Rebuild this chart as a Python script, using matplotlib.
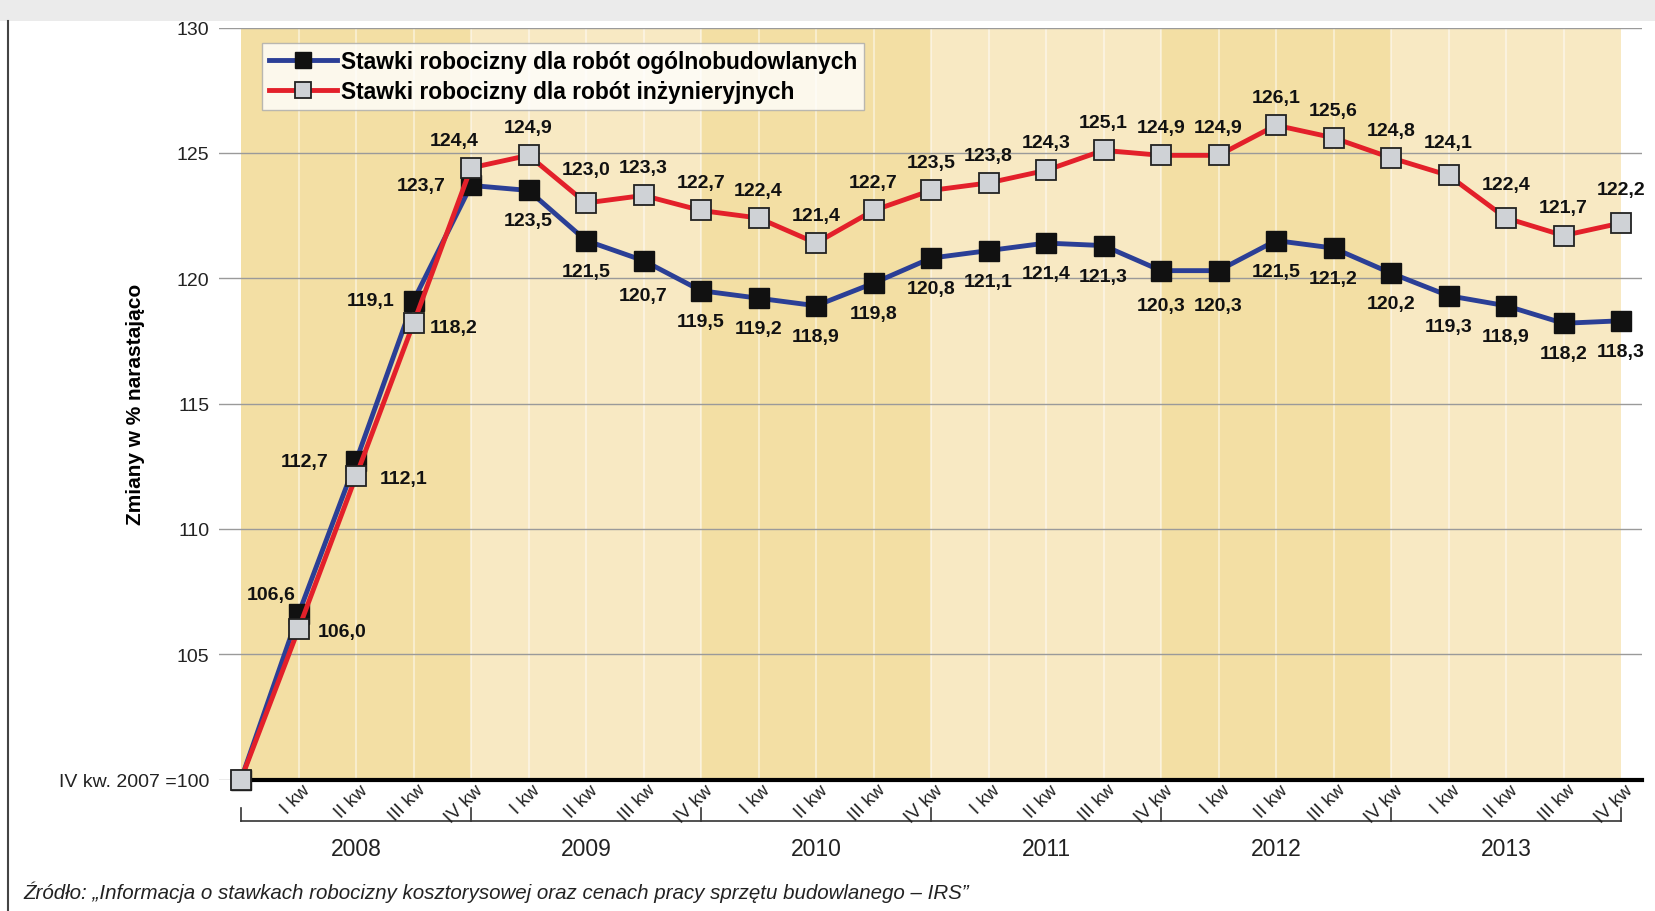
import numpy as np
import matplotlib.pyplot as plt
from matplotlib.lines import Line2D
from matplotlib.patches import Rectangle

plt.rcParams['font.family'] = ['Liberation Sans', 'DejaVu Sans']

years = ['2008', '2009', '2010', '2011', '2012', '2013']
quarters = ['I kw', 'II kw', 'III kw', 'IV kw']

ogolno = [100, 106.6, 112.7, 119.1, 123.7, 123.5, 121.5, 120.7, 119.5, 119.2, 118.9, 119.8,
          120.8, 121.1, 121.4, 121.3, 120.3, 120.3, 121.5, 121.2, 120.2, 119.3, 118.9, 118.2, 118.3]
inz = [100, 106.0, 112.1, 118.2, 124.4, 124.9, 123.0, 123.3, 122.7, 122.4, 121.4, 122.7,
       123.5, 123.8, 124.3, 125.1, 124.9, 124.9, 126.1, 125.6, 124.8, 124.1, 122.4, 121.7, 122.2]

yticks = [100, 105, 110, 115, 120, 125, 130]
ytick_labels = ['IV kw. 2007 =100', '105', '110', '115', '120', '125', '130']

W, H = 1656, 912
fig = plt.figure(figsize=(W / 100, H / 100), dpi=100)
fig.patch.set_facecolor('white')

# header strip + left frame line
fig.add_artist(Rectangle((0, 1 - 22 / H), 1, 22 / H, transform=fig.transFigure,
                         facecolor='#ebebeb', edgecolor='none'))
fig.add_artist(Line2D([8 / W, 8 / W], [0, 1 - 22 / H], transform=fig.transFigure,
                      color='#444444', lw=1.5))

px0, px1 = 219, 1642
step = 57.5
ax = fig.add_axes([px0 / W, 1 - 780.5 / H, (px1 - px0) / W, (780.5 - 28.5) / H])
x = np.arange(len(ogolno))
ax.set_xlim(-(241 - px0) / step, (px1 - 241) / step)
ax.set_ylim(100, 130)
for s in ax.spines.values():
    s.set_visible(False)
ax.set_facecolor('none')

# year bands
band_cols = ['#f3dfa4', '#f8e9c3']
for k in range(len(years)):
    ax.axvspan(4 * k, 4 * k + 4, ymin=0, ymax=1, color=band_cols[k % 2], lw=0, zorder=0)
for i in range(1, 24):
    ax.axvline(i, color='white', alpha=0.45, lw=1.5, zorder=0.5)

for t in yticks:
    ax.axhline(t, color='#9a9a9a', lw=1, zorder=1)
ax.plot([0, ax.get_xlim()[1]], [100, 100], color='black', lw=3, zorder=2, clip_on=False)

ax.set_yticks(yticks)
ax.set_yticklabels(ytick_labels, fontsize=14, color='#222222')
ax.tick_params(axis='y', length=0, pad=7)
ax.set_xticks([])
ax.set_ylabel('Zmiany w % narastająco', fontsize=15, fontweight='bold')
ax.yaxis.set_label_coords(-0.052, 0.5)

ax.plot(x, ogolno, color='#2b3f96', lw=3.5, marker='s', markersize=14.5,
        markerfacecolor='#111111', markeredgecolor='#111111', zorder=4, clip_on=False,
        label='Stawki robocizny dla robót ogólnobudowlanych')
ax.plot(x, inz, color='#e3202a', lw=3.5, marker='s', markersize=14.5,
        markerfacecolor='#cfd2d6', markeredgecolor='#222222', markeredgewidth=1.3,
        zorder=5, clip_on=False, label='Stawki robocizny dla robót inżynieryjnych')


def fmt(v):
    return f'{v:.1f}'.replace('.', ',')


lab = dict(fontsize=14, fontweight='bold', color='#111111')
# label placement (points): early rising points sit beside the markers
blue_side = {1: (-2, 14), 2: (-20, 0), 3: (-14, 0), 4: (-18, 0)}
red_side = {1: (14, -2), 2: (17, -2), 3: (12, -3)}
for i in range(1, len(x)):
    b, r = ogolno[i], inz[i]
    if i in blue_side:
        ax.annotate(fmt(b), (i, b), xytext=blue_side[i], textcoords='offset points',
                    ha='right', va='center', **lab)
    else:
        off = -25 if i in (7, 16, 17) else -22
        ax.annotate(fmt(b), (i, b), xytext=(0, off), textcoords='offset points',
                    ha='center', va='center', **lab)
    if i in red_side:
        ax.annotate(fmt(r), (i, r), xytext=red_side[i], textcoords='offset points',
                    ha='left', va='center', **lab)
    else:
        off = 24 if i in (6, 21, 22, 24) else 20
        ax.annotate(fmt(r), (i, r), xytext=(-12 if i == 4 else 0, off), textcoords='offset points',
                    ha='center', va='center', **lab)

# quarter labels
for i in range(1, len(x)):
    ax.text(i + 0.16, 99.7, quarters[(i - 1) % 4], rotation=45, rotation_mode='anchor',
            ha='right', va='center', fontsize=13.5, color='#222222', clip_on=False)

# year brackets
yb_top, yb_bot = 98.86, 98.35
ax.plot([0, 24], [yb_bot, yb_bot], color='#333333', lw=1.2, clip_on=False)
for k in range(len(years) + 1):
    ax.plot([4 * k, 4 * k], [yb_bot, yb_top], color='#333333', lw=1.2, clip_on=False)
for k, yr in enumerate(years):
    ax.text(4 * k + 2, 97.25, yr, ha='center', va='center', fontsize=16.5, color='#222222',
            clip_on=False)

leg = ax.legend(loc='upper left', bbox_to_anchor=((262 - px0) / (px1 - px0), 1 - (44 - 28.5) / 752),
                fontsize=16.4, frameon=True, fancybox=False, borderpad=0.3,
                handlelength=3.0, handletextpad=0.15, labelspacing=0.3, borderaxespad=0)
leg.get_frame().set_edgecolor('#aaaaaa')
leg.get_frame().set_linewidth(1)
for t in leg.get_texts():
    t.set_fontweight('bold')
for h in leg.legend_handles:
    h.set_markersize(11)

fig.text(23 / W, 1 - 892 / H,
         'Źródło: „Informacja o stawkach robocizny kosztorysowej oraz cenach pracy sprzętu budowlanego – IRS”',
         fontsize=14.8, style='italic', color='#222222', va='center')

fig.savefig('out.png', dpi=100)
